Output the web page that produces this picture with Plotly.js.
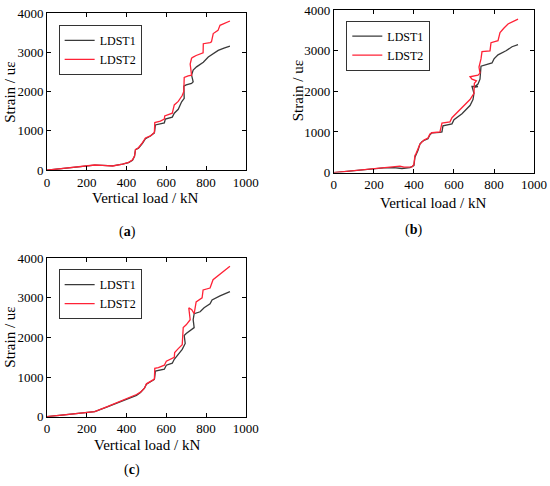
<!DOCTYPE html>
<html>
<head>
<meta charset="utf-8">
<script src="https://cdn.plot.ly/plotly-3.0.1.min.js"></script>
<style>html,body{margin:0;padding:0;background:#fff;}#chart{width:550px;height:486px;}</style>
</head>
<body>
<div id="chart"></div>
<script>
// ---- Data ----
const seriesNames = ["LDST1", "LDST2"];
const panelLabels = ["a", "b", "c"];
const xTicks = [0, 200, 400, 600, 800, 1000];
const yTicks = [0, 1000, 2000, 3000, 4000];

// Panel (a)
const a1_x = [0,50,100,150,200,240,280,330,380,410,430,440,445,460,480,495,520,540,545,560,590,595,630,640,660,677,690,688,700,727,735,727,735,752,786,811,836,861,890,920];
const a1_y = [0,30,60,85,110,125,118,108,150,190,250,350,520,560,680,800,870,950,1150,1170,1200,1300,1350,1450,1550,1740,1830,2140,2170,2210,2250,2420,2550,2630,2750,2880,2960,3050,3110,3160];
const a2_x = [0,50,100,150,200,240,280,330,380,410,430,440,445,460,480,495,520,540,542,570,590,592,630,640,660,680,688,690,710,727,720,727,735,750,785,786,820,827,836,860,870,890,920];
const a2_y = [0,30,60,85,110,130,118,105,155,195,260,360,520,570,700,820,870,960,1210,1250,1300,1380,1450,1660,1750,1900,2000,2360,2400,2420,2700,2850,2880,2920,2990,3220,3250,3270,3480,3560,3690,3740,3800];

// Panel (b)
const b1_x = [0,50,100,150,200,250,300,340,380,400,405,410,420,430,440,450,470,480,490,530,540,545,590,600,640,680,695,700,690,720,700,720,730,735,760,790,800,820,860,890,920];
const b1_y = [0,25,50,75,100,115,120,100,120,170,380,430,540,700,760,790,830,930,980,990,1000,1150,1200,1300,1450,1650,1800,1950,2120,2120,2100,2180,2300,2620,2660,2700,2800,2900,3000,3100,3150];
const b2_x = [0,50,100,150,200,250,300,330,350,390,400,405,410,420,430,440,450,470,480,490,530,540,580,590,620,650,680,700,702,712,690,680,705,720,730,725,735,740,780,785,820,830,850,870,920];
const b2_y = [0,25,50,75,100,110,150,160,135,140,200,420,460,560,700,750,800,850,950,980,1000,1220,1250,1350,1500,1650,1800,1950,2200,2260,2300,2360,2380,2400,2450,2600,2800,2980,3000,3200,3250,3450,3560,3660,3780];

// Panel (c)
const c1_x = [0,100,200,240,300,350,400,450,470,490,500,520,540,545,590,600,630,640,680,695,690,700,730,740,735,740,770,790,820,830,870,920];
const c1_y = [0,60,105,130,240,340,440,540,610,720,820,870,940,1150,1200,1300,1350,1450,1700,1850,2050,2100,2200,2250,2450,2600,2650,2750,2850,2950,3050,3160];
const c2_x = [0,100,200,240,300,350,400,450,470,490,500,520,540,542,560,590,600,640,642,660,680,685,700,720,713,728,740,750,780,785,820,835,870,890,920];
const c2_y = [0,60,110,130,250,350,450,560,620,720,830,880,950,1220,1240,1300,1400,1500,1620,1720,1820,2250,2320,2450,2750,2700,2600,2900,3000,3200,3250,3460,3600,3700,3800];

// ---- Styling ----
const colBlack = "#3a3a3a";
const colRed = "#ff2236";
const serif = "Liberation Serif";

const panels = [
  {s1x: a1_x, s1y: a1_y, s2x: a2_x, s2y: a2_y, xa: "x", ya: "y", leg: "legend"},
  {s1x: b1_x, s1y: b1_y, s2x: b2_x, s2y: b2_y, xa: "x2", ya: "y2", leg: "legend2"},
  {s1x: c1_x, s1y: c1_y, s2x: c2_x, s2y: c2_y, xa: "x3", ya: "y3", leg: "legend3"}
];

const traces = [];
panels.forEach(p => {
  traces.push({x: p.s1x, y: p.s1y, name: seriesNames[0], mode: "lines", xaxis: p.xa, yaxis: p.ya, legend: p.leg,
    line: {color: colBlack, width: 1.3}});
  traces.push({x: p.s2x, y: p.s2y, name: seriesNames[1], mode: "lines", xaxis: p.xa, yaxis: p.ya, legend: p.leg,
    line: {color: colRed, width: 1.3}});
});

function xAxis(dom, anchor) {
  return {domain: dom, anchor: anchor, range: [0, 1000], tickvals: xTicks, ticktext: xTicks.map(String),
    showgrid: false, zeroline: false, showline: true, linecolor: "#000", linewidth: 1, mirror: "ticks",
    ticks: "inside", ticklen: 4, tickcolor: "#000", tickfont: {family: serif, size: 13, color: "#000"}, fixedrange: true};
}
function yAxis(dom, anchor) {
  return {domain: dom, anchor: anchor, range: [0, 4000], tickvals: yTicks, ticktext: yTicks.map(String),
    showgrid: false, zeroline: false, showline: true, linecolor: "#000", linewidth: 1, mirror: "ticks",
    ticks: "inside", ticklen: 4, tickcolor: "#000", tickfont: {family: serif, size: 13, color: "#000"}, fixedrange: true};
}
function legend(x, y) {
  return {x: x, y: y, xanchor: "left", yanchor: "top", bgcolor: "rgba(255,255,255,0)", bordercolor: "#000", borderwidth: 0.8,
    font: {family: serif, size: 12, color: "#000"}, tracegroupgap: 0, itemwidth: 30};
}

const ann = [];
function addTitles(xx, xy, yx, yy) {
  ann.push({text: "Vertical load / kN", x: xx, y: xy, xref: "paper", yref: "paper", showarrow: false,
    xanchor: "center", yanchor: "middle", font: {family: serif, size: 15, color: "#000"}});
  ann.push({text: "Strain / uε", x: yx, y: yy, xref: "paper", yref: "paper", showarrow: false, textangle: -90,
    xanchor: "center", yanchor: "middle", font: {family: serif, size: 15, color: "#000"}});
}
addTitles(0.2636, 0.5926, 0.018, 0.811);
addTitles(0.787, 0.582, 0.5424, 0.8128);
addTitles(0.267, 0.0844, 0.018, 0.307);
const labelPos = [[0.2327, 0.5226], [0.751, 0.527], [0.24, 0.033]];
panelLabels.forEach((l, i) => {
  ann.push({text: "(<b>" + l + "</b>)", x: labelPos[i][0], y: labelPos[i][1], xref: "paper", yref: "paper", showarrow: false,
    xanchor: "center", yanchor: "middle", font: {family: serif, size: 14, color: "#000"}});
});

const layout = {
  width: 550, height: 486,
  margin: {l: 0, r: 0, t: 0, b: 0},
  paper_bgcolor: "#fff", plot_bgcolor: "#fff",
  showlegend: true,
  xaxis: xAxis([0.0855, 0.447], "y"),
  yaxis: yAxis([0.650, 0.973], "x"),
  xaxis2: xAxis([0.607, 0.971], "y2"),
  yaxis2: yAxis([0.645, 0.979], "x2"),
  xaxis3: xAxis([0.0855, 0.447], "y3"),
  yaxis3: yAxis([0.1426, 0.4685], "x3"),
  legend: legend(0.107, 0.9486),
  legend2: legend(0.630, 0.957),
  legend3: legend(0.107, 0.446),
  annotations: ann
};

Plotly.newPlot("chart", traces, layout, {displayModeBar: false, staticPlot: true});
</script>
</body>
</html>
